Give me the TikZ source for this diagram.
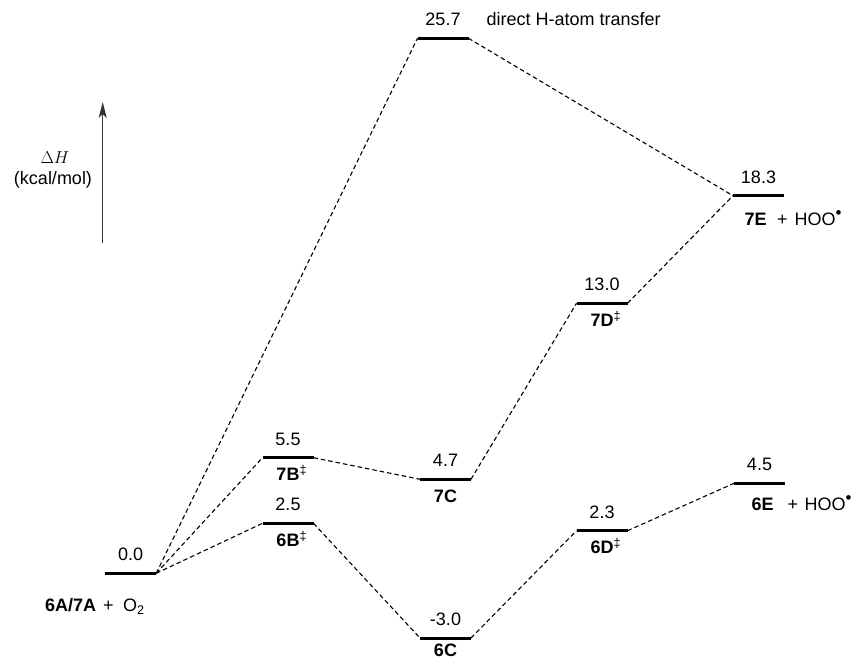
\documentclass[tikz,border=0pt]{standalone}
\usepackage{fontspec}
\setmainfont{Liberation Sans}
\usetikzlibrary{arrows.meta}
\newcommand{\radot}{\raisebox{7pt}{\fontsize{17}{17}\selectfont •}}
\begin{document}
\begin{tikzpicture}[x=1pt,y=-1pt,
  font=\fontsize{18}{21}\selectfont,
  lvl/.style={fill=black, draw=none, minimum width=51pt, minimum height=3pt, inner sep=0pt, outer sep=0pt},
  conn/.style={dash pattern=on 4.5pt off 3pt, line width=1.1pt},
  val/.style={anchor=base, inner sep=0pt},
  nm/.style={anchor=base, inner sep=0pt, font=\fontsize{18}{21}\selectfont\bfseries},
  txt/.style={anchor=base west, inner sep=0pt}]
\useasboundingbox (0,0) rectangle (855,661);
% levels
\node[lvl] (A)  at (130.7,573.3) {};
\node[lvl] (B6) at (288,523.3) {};
\node[lvl] (B7) at (288,457.7) {};
\node[lvl] (C7) at (445.5,479.3) {};
\node[lvl] (C6) at (445.5,638) {};
\node[lvl] (TS) at (443,38.3) {};
\node[lvl] (D7) at (602,303.3) {};
\node[lvl] (D6) at (602,530.7) {};
\node[lvl] (E7) at (758.5,195.7) {};
\node[lvl] (E6) at (759.5,483.3) {};
% connectors
\draw[conn] (A.east) -- (TS.west);
\draw[conn] (A.east) -- (B7.west);
\draw[conn] (A.east) -- (B6.west);
\draw[conn] (B7.east) -- (C7.west);
\draw[conn] (C7.east) -- (D7.west);
\draw[conn] (D7.east) -- (E7.west);
\draw[conn] (TS.east) -- (E7.west);
\draw[conn] (B6.east) -- (C6.west);
\draw[conn] (C6.east) -- (D6.west);
\draw[conn] (D6.east) -- (E6.west);
% values
\node[val] (vA)  at ([yshift=12.5pt]A.center) {0.0};
\node[val] (vB6) at ([yshift=12.5pt]B6.center) {2.5};
\node[val] (vB7) at ([yshift=12.5pt]B7.center) {5.5};
\node[val] (vC7) at ([yshift=12.5pt]C7.center) {4.7};
\node[val] (vC6) at ([yshift=12.5pt]C6.center) {-3.0};
\node[val] (vTS) at ([yshift=12.5pt]TS.center) {25.7};
\node[val] (vD7) at ([yshift=12.5pt]D7.center) {13.0};
\node[val] (vD6) at ([yshift=12.5pt]D6.center) {2.3};
\node[val] (vE7) at ([yshift=12.5pt]E7.center) {18.3};
\node[val] (vE6) at ([yshift=12.5pt]E6.center) {4.5};
% names
\node[nm] (nB7) at ([yshift=-23pt]B7.center) {7B\rlap{\textsuperscript{\mdseries‡}}};
\node[nm] (nB6) at ([yshift=-23pt]B6.center) {6B\rlap{\textsuperscript{\mdseries‡}}};
\node[nm] (nC7) at ([yshift=-23pt]C7.center) {7C};
\node[nm] (nC6) at ([yshift=-18pt]C6.center) {6C};
\node[nm] (nD7) at ([yshift=-23pt]D7.center) {7D\rlap{\textsuperscript{\mdseries‡}}};
\node[nm] (nD6) at ([yshift=-23pt]D6.center) {6D\rlap{\textsuperscript{\mdseries‡}}};
\node[txt] (nA) at (45,611.7) {\textbf{6A/7A}\hspace{6.8pt}+\hspace{9.6pt}O\textsubscript{2}};
\node[txt] (nE7) at (744.5,225) {\textbf{7E}\hspace{10.5pt}+\hspace{7pt}HOO\radot};
\node[txt] (nE6) at (751.5,510.5) {\textbf{6E}\hspace{14pt}+\hspace{6.5pt}HOO\radot};
\node[txt] (dir) at (486.5,26) {direct H-atom transfer};
% axis
\coordinate (ax0) at (102.7,243);
\coordinate (ax1) at (102.7,102);
\draw[line width=1.3pt, draw=black!80, -{Stealth[length=16pt,width=8pt,inset=4pt]}] (ax0) -- (ax1);
\node[anchor=center, inner sep=0pt] (dh) at (55,158) {$\Delta H$};
\node[anchor=center, inner sep=0pt] (un) at (53,180) {(kcal/mol)};
\end{tikzpicture}
\end{document}
